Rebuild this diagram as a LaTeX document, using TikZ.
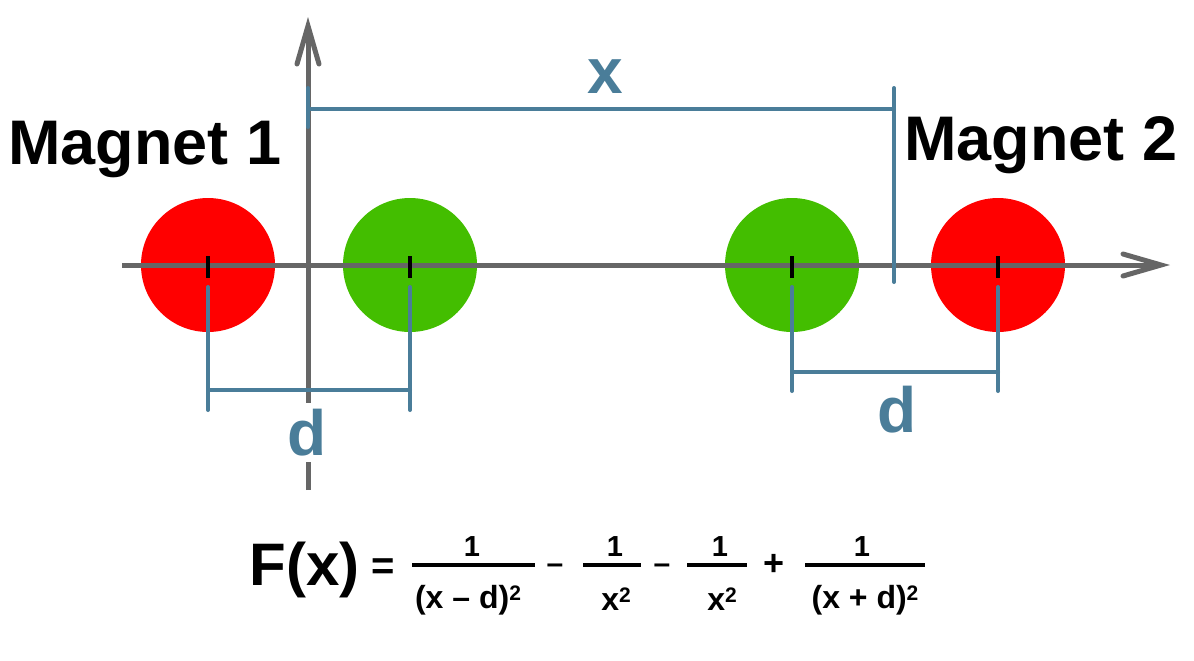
\documentclass[tikz,border=0pt]{standalone}
\usepackage{fontspec}
\setmainfont{Liberation Sans}
\usetikzlibrary{arrows.meta}

\definecolor{magred}{RGB}{255,0,0}
\definecolor{maggreen}{RGB}{67,190,0}
\definecolor{dimblue}{RGB}{74,125,153}
\definecolor{axisgray}{RGB}{102,102,102}

\newcommand{\sq}{\raisebox{4pt}{\fontsize{10.5}{12}\selectfont 2}}

\begin{document}
\begin{tikzpicture}[x=0.5pt, y=-0.5pt,
    axis/.style={axisgray, line width=2.5pt, -{Straight Barb[length=19pt, width=11pt, line cap=round]}},
    dim/.style={dimblue, line width=2pt, line cap=round},
    tick/.style={black, line width=2pt},
    dimlabel/.style={text=dimblue, font=\fontsize{32}{36}\selectfont\bfseries, inner sep=3pt, anchor=base},
    maglabel/.style={font=\fontsize{31.5}{36}\selectfont\bfseries, inner sep=0pt, anchor=base west},
    num/.style={font=\fontsize{14.5}{16}\selectfont\bfseries, inner sep=0pt, anchor=base},
    den/.style={font=\fontsize{16}{18}\selectfont\bfseries, inner sep=0pt, anchor=base},
    sign/.style={font=\fontsize{15}{18}\selectfont\bfseries, inner sep=0pt, anchor=base},
    fracbar/.style={line width=2pt}]

\useasboundingbox (0,0) rectangle (1194,660);

\coordinate (r1) at (208,265);
\coordinate (g1) at (410,265);
\coordinate (g2) at (792,265);
\coordinate (r2) at (998,265);

\coordinate (xl) at (122,265);
\coordinate (xr) at (1170,265);
\coordinate (yb) at (308,490);
\coordinate (yt) at (308,17);

% magnets
\foreach \i in {r1,r2}
    \fill [magred] (\i) circle (33.5pt);
\foreach \i in {g1,g2}
    \fill [maggreen] (\i) circle (33.5pt);

\draw [axis] (xl) -- (xr);
\draw [axis] (yb) -- (yt);

\foreach \i in {r1,g1,g2,r2}
    \draw [tick] (\i) ++(0,-9) -- ++(0,22);

% distance x
\coordinate (x0) at (308,88);
\coordinate (x1) at (308,127);
\coordinate (x2) at (894,88);
\coordinate (x3) at (894,282);
\coordinate (x4) at (308,109);
\coordinate (x5) at (894,109);
\draw [dim] (x0) -- (x1);
\draw [dim] (x2) -- (x3);
\draw [dim] (x4) -- (x5);
\node [dimlabel] (xlab) at (605,93) {x};

% distance d, magnet 1
\coordinate (d0) at (208,287);
\coordinate (d1) at (208,410);
\coordinate (d2) at (410,287);
\coordinate (d3) at (410,410);
\coordinate (d4) at (208,390);
\coordinate (d5) at (410,390);
\draw [dim] (d0) -- (d1);
\draw [dim] (d2) -- (d3);
\draw [dim] (d4) -- (d5);
\node [dimlabel, fill=white] (dlab1) at (307,455) {d};

% distance d, magnet 2
\coordinate (e0) at (792,287);
\coordinate (e1) at (792,391);
\coordinate (e2) at (998,287);
\coordinate (e3) at (998,391);
\coordinate (e4) at (792,372);
\coordinate (e5) at (998,372);
\draw [dim] (e0) -- (e1);
\draw [dim] (e2) -- (e3);
\draw [dim] (e4) -- (e5);
\node [dimlabel] (dlab2) at (897,432) {d};

\node [maglabel] (mag1) at (8,164) {Magnet 1};
\node [maglabel] (mag2) at (904,160) {Magnet 2};

% force
\node [anchor=base west, inner sep=0pt, font=\fontsize{30}{36}\selectfont\bfseries] (F) at (249,585) {F(x)};
\node [anchor=base, inner sep=0pt, font=\fontsize{20}{24}\selectfont\bfseries] (eq) at (383,579) {=};

\foreach \a/\b in {412/535, 583/641, 687/747, 805/925}
    \draw [fracbar] (\a,565) -- (\b,565);

\foreach \c in {472,615,720,862}
    \node [num] (n\c) at (\c,556) {1};

\node [den] (q1) at (468,608) {(x – d)\sq};
\node [den] (q2) at (616,610) {x\sq};
\node [den] (q3) at (722,610) {x\sq};
\node [den] (q4) at (865,608) {(x + d)\sq};

\node [sign] (m1) at (555,573) {–};
\node [sign] (m2) at (662,573) {–};
\node [sign, font=\fontsize{18}{20}\selectfont\bfseries] (p1) at (774,575) {+};

\end{tikzpicture}
\end{document}
